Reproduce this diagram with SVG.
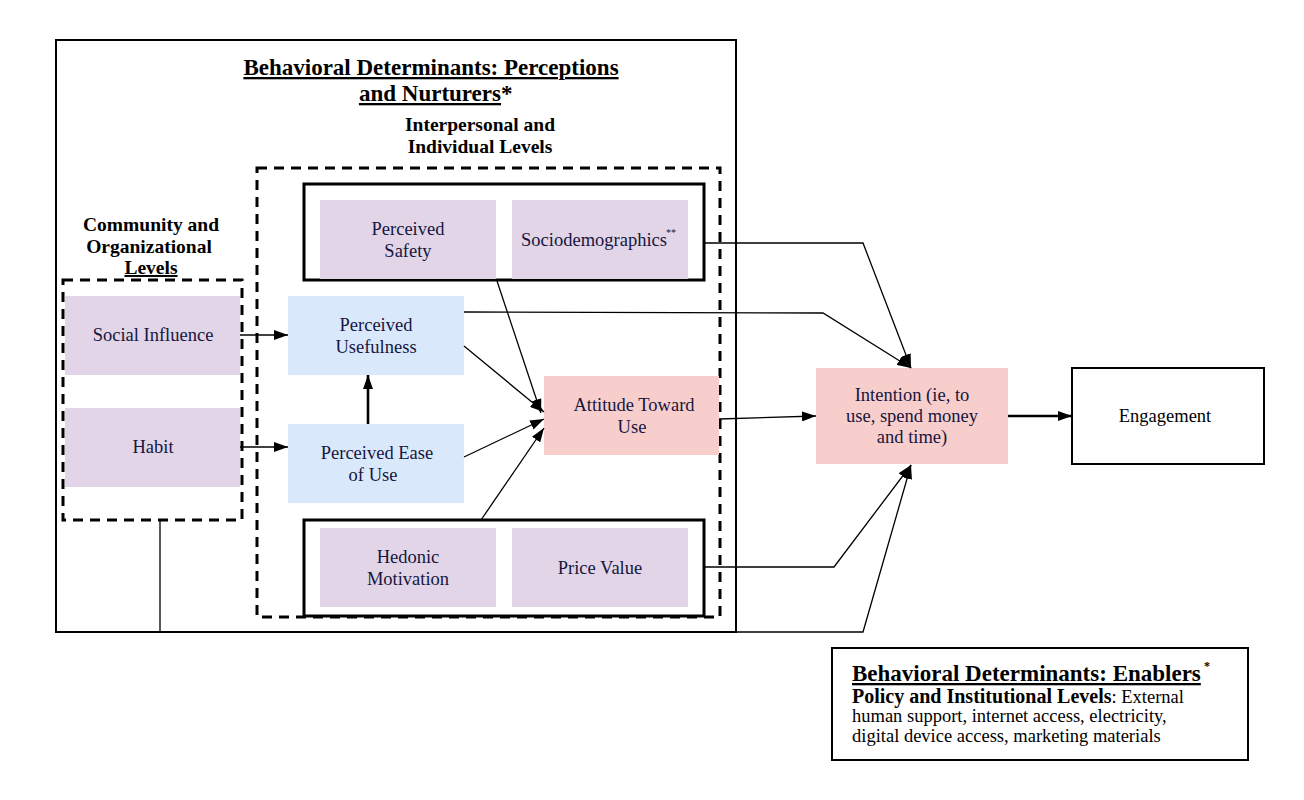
<svg xmlns="http://www.w3.org/2000/svg" width="1304" height="800" viewBox="0 0 1304 800">
<style>
text{font-family:"Liberation Serif","Times New Roman",serif}
.n{font-size:18.5px;fill:#16163f;text-anchor:middle}
.h{font-size:19.5px;font-weight:bold;fill:#000;text-anchor:middle}
.t{font-size:23px;font-weight:bold;fill:#000;text-decoration:underline}
.b{font-size:18.5px;fill:#000}
.purple{fill:#e1d5e7}
.blue{fill:#dae8fc}
.red{fill:#f8cecc}
.c{fill:none;stroke:#000;stroke-width:1.3}
.ct{fill:none;stroke:#000;stroke-width:2.6}
</style>
<defs>
<marker id="a" viewBox="0 0 14 10" refX="14" refY="5" markerWidth="14" markerHeight="10" markerUnits="userSpaceOnUse" orient="auto">
<path d="M0,0 L14,5 L0,10 Z" fill="#000"/>
</marker>
</defs>
<rect width="1304" height="800" fill="#fff"/>

<g id="outer">
<rect x="56" y="40" width="680" height="592" fill="none" stroke="#000" stroke-width="2"/>
<text class="t" x="431" y="75" text-anchor="middle">Behavioral Determinants: Perceptions</text>
<text class="t" x="501" y="101" text-anchor="end">and Nurturers</text>
<text x="501" y="101" font-size="23" font-weight="bold" fill="#000">*</text>
</g>

<g id="interpersonal">
<rect x="257" y="168" width="463" height="449" fill="none" stroke="#000" stroke-width="3" stroke-dasharray="10,7"/>
<text class="h" x="480" y="131">Interpersonal and</text>
<text class="h" x="480" y="153">Individual Levels</text>
</g>

<g id="community">
<rect x="63" y="280" width="179" height="240" fill="none" stroke="#000" stroke-width="3" stroke-dasharray="10,7"/>
<text class="h" x="151" y="231">Community and</text>
<text class="h" x="149" y="253">Organizational</text>
<text class="h" x="151" y="274" text-decoration="underline">Levels</text>
</g>

<g id="social-influence">
<rect class="purple" x="65" y="296" width="175" height="79"/>
<text class="n" x="153" y="341">Social Influence</text>
</g>
<g id="habit">
<rect class="purple" x="65" y="408" width="175" height="79"/>
<text class="n" x="153" y="453">Habit</text>
</g>

<g id="top-group">
<rect x="304" y="184" width="400" height="96" fill="none" stroke="#000" stroke-width="3"/>
</g>
<g id="perceived-safety">
<rect class="purple" x="320" y="200" width="176" height="79"/>
<text class="n" x="408" y="235">Perceived</text>
<text class="n" x="408" y="257">Safety</text>
</g>
<g id="sociodemographics">
<rect class="purple" x="512" y="200" width="176" height="79"/>
<text class="n" x="594" y="246">Sociodemographics</text>
<text x="666" y="236" font-size="10" fill="#16163f">**</text>
</g>

<g id="perceived-usefulness">
<rect class="blue" x="288" y="296" width="176" height="79"/>
<text class="n" x="376" y="331">Perceived</text>
<text class="n" x="376" y="353">Usefulness</text>
</g>
<g id="perceived-ease">
<rect class="blue" x="288" y="424" width="176" height="79"/>
<text class="n" x="377" y="459">Perceived Ease</text>
<text class="n" x="373" y="481">of Use</text>
</g>

<g id="attitude">
<rect class="red" x="544" y="376" width="175" height="79"/>
<text class="n" x="634" y="411">Attitude Toward</text>
<text class="n" x="632" y="433">Use</text>
</g>

<g id="bottom-group">
<rect x="304" y="520" width="400" height="96" fill="none" stroke="#000" stroke-width="3"/>
</g>
<g id="hedonic">
<rect class="purple" x="320" y="528" width="176" height="79"/>
<text class="n" x="408" y="563">Hedonic</text>
<text class="n" x="408" y="585">Motivation</text>
</g>
<g id="price-value">
<rect class="purple" x="512" y="528" width="176" height="79"/>
<text class="n" x="600" y="574">Price Value</text>
</g>

<g id="intention">
<rect class="red" x="816" y="368" width="192" height="96"/>
<text class="n" x="912" y="401">Intention (ie, to</text>
<text class="n" x="912" y="422">use, spend money</text>
<text class="n" x="912" y="443">and time)</text>
</g>

<g id="engagement">
<rect x="1072" y="368" width="192" height="96" fill="#fff" stroke="#000" stroke-width="2"/>
<text class="n" x="1165" y="422" style="fill:#000">Engagement</text>
</g>

<g id="enablers">
<rect x="832" y="648" width="416" height="112" fill="#fff" stroke="#000" stroke-width="2"/>
<text class="t" x="852" y="681">Behavioral Determinants: Enablers</text>
<text x="1204" y="670" font-size="12" font-weight="bold" fill="#000">*</text>
<text class="b" x="852" y="703"><tspan font-weight="bold" font-size="20">Policy and Institutional Levels</tspan>: External</text>
<text class="b" x="852" y="722">human support, internet access, electricity,</text>
<text class="b" x="852" y="742">digital device access, marketing materials</text>
</g>

<g id="connectors">
<path class="c" d="M240,335 L288,335" marker-end="url(#a)"/>
<path class="c" d="M240,447 L288,447" marker-end="url(#a)"/>
<path class="ct" d="M368,424 L368,375" marker-end="url(#a)"/>
<path class="c" d="M464,346 L544,412" marker-end="url(#a)"/>
<path class="c" d="M464,457 L544,419" marker-end="url(#a)"/>
<path class="c" d="M497,281 L541,413" marker-end="url(#a)"/>
<path class="c" d="M481,520 L544,428" marker-end="url(#a)"/>
<path class="c" d="M719,419 L816,416" marker-end="url(#a)"/>
<path class="ct" d="M1008,416 L1072,416" marker-end="url(#a)"/>
<path class="c" d="M704,243 L863,243 L911,368" marker-end="url(#a)"/>
<path class="c" d="M464,312 L823,313 L911,368" marker-end="url(#a)"/>
<path class="c" d="M704,567 L834,567 L911,465" marker-end="url(#a)"/>
<path class="c" d="M160,520 L160,632 L863,632 L911,465" marker-end="url(#a)"/>
</g>
</svg>
